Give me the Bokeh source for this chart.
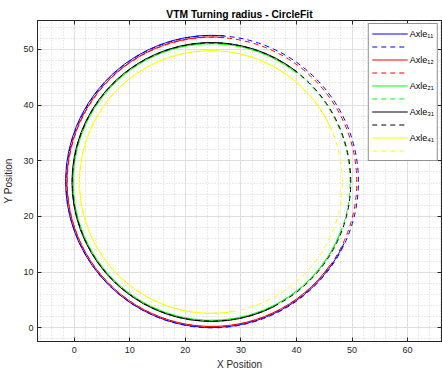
import numpy as np
from bokeh.plotting import figure
from bokeh.models import Range1d, LinearAxis, FixedTicker, Legend, LegendItem, Title, CustomJSTickFormatter
from bokeh.embed import file_html
from bokeh.resources import INLINE

# ---- data ----
axle_labels = ["Axle\u2081\u2081", "Axle\u2081\u2082", "Axle\u2082\u2081", "Axle\u2083\u2081", "Axle\u2084\u2081"]
axle_colors = ["#0000ff", "#ff0000", "#00ff00", "#000000", "#ffff00"]

# measured trajectory (solid arcs): centre, radius, covered angle range (deg, anticlockwise)
traj_cx = [24.75, 24.75, 24.70, 24.70, 24.60]
traj_cy = [26.30, 26.25, 26.20, 26.20, 26.20]
traj_r = [26.30, 26.05, 24.90, 25.10, 23.65]
traj_start_deg = [85, 85, 52, 52, 23]
traj_end_deg = [335, 325, 340, 297, 279]

# fitted circles (dashed)
fit_cx = [24.85, 24.80, 24.70, 24.72, 24.60]
fit_cy = [26.25, 26.20, 26.20, 26.20, 26.20]
fit_r = [26.30, 26.05, 24.95, 25.05, 23.65]

x_ticks = [0, 10, 20, 30, 40, 50, 60]
y_ticks = [0, 10, 20, 30, 40, 50]

AX = "#262626"
FONT = "Liberation Sans"

p = figure(width=442, height=372,
           x_range=Range1d(-6.6, 66.1), y_range=Range1d(-2.45, 55.2),
           output_backend="svg", toolbar_location=None,
           min_border_left=37, min_border_right=1, min_border_top=20, min_border_bottom=31)

p.title = Title(text="VTM Turning radius - CircleFit", align="center",
                text_font=FONT, text_font_size="10.3px", text_font_style="bold",
                text_color="#000000", standoff=2, offset=0)

xt = FixedTicker(ticks=x_ticks, minor_ticks=list(np.arange(-6, 67, 2)))
yt = FixedTicker(ticks=y_ticks, minor_ticks=list(np.arange(-2, 56, 2)))

for ax in [p.xaxis[0], p.yaxis[0]]:
    ax.major_tick_in = 4
    ax.major_tick_out = 0
    ax.minor_tick_in = 0
    ax.minor_tick_out = 0
    ax.axis_line_color = AX
    ax.major_tick_line_color = AX
    ax.major_label_text_font = FONT
    ax.major_label_text_font_size = "9px"
    ax.major_label_text_color = AX
    ax.axis_label_text_font = FONT
    ax.axis_label_text_font_size = "10px"
    ax.axis_label_text_font_style = "normal"
    ax.axis_label_text_color = AX
p.xaxis[0].ticker = xt
p.yaxis[0].ticker = yt
p.xaxis[0].axis_label = "X Position"
p.yaxis[0].axis_label = "Y Position"
p.xaxis[0].major_label_standoff = 5
p.xaxis[0].axis_label_standoff = 3
p.yaxis[0].major_label_standoff = 4
p.yaxis[0].axis_label_standoff = 6

blank = CustomJSTickFormatter(code="return ''")
for loc, tk in [("above", xt), ("right", yt)]:
    a = LinearAxis(ticker=tk, formatter=blank, major_tick_in=4, major_tick_out=0,
                   minor_tick_in=0, minor_tick_out=0,
                   axis_line_color=AX, major_tick_line_color=AX,
                   major_label_text_font_size="9px", major_label_standoff=0)
    p.add_layout(a, loc)

p.outline_line_color = AX
p.xgrid.ticker = xt
p.ygrid.ticker = yt
for g in [p.xgrid[0], p.ygrid[0]]:
    g.grid_line_color = "#dfdfdf"
    g.minor_grid_line_color = "#d6d6d6"
    g.minor_grid_line_dash = "1 2"

items = []
for i in range(len(axle_labels)):
    solid = p.arc(x=traj_cx[i], y=traj_cy[i], radius=traj_r[i],
                  start_angle=np.deg2rad(traj_start_deg[i]), end_angle=np.deg2rad(traj_end_deg[i]),
                  direction="anticlock", line_color=axle_colors[i], line_width=1)
    dashed = p.arc(x=fit_cx[i], y=fit_cy[i], radius=fit_r[i],
                   start_angle=0, end_angle=2 * np.pi, direction="anticlock",
                   line_color=axle_colors[i], line_width=1, line_dash="5 4")
    items.append(LegendItem(label=axle_labels[i], renderers=[solid]))
    items.append(LegendItem(label=" ", renderers=[dashed]))

legend = Legend(items=items, location="top_right", margin=3, padding=3, spacing=0,
                glyph_width=36, glyph_height=13, label_height=13, label_standoff=2,
                label_text_font=FONT, label_text_font_size="9px", label_text_color="#000000",
                border_line_color=AX, border_line_width=1, background_fill_alpha=1)
p.add_layout(legend, "center")

open("out.html", "w").write(file_html(p, INLINE))
